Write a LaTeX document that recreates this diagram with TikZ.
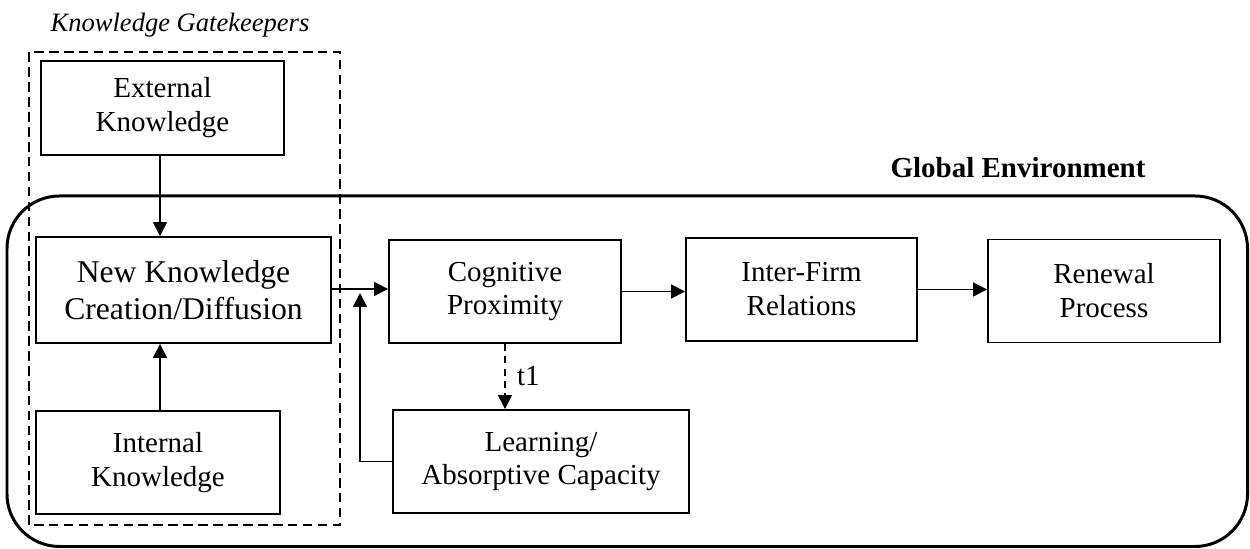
\documentclass[tikz,border=0pt]{standalone}
\usepackage{fontspec}
\setmainfont{Liberation Serif}
\usetikzlibrary{arrows.meta}
\definecolor{KGLine}{HTML}{000000}
\tikzset{
  kgbox/.style={draw=KGLine,line width=1.1pt,align=center,inner sep=0pt,font=\fontsize{16.5}{19.3}\selectfont},
  kgarrow/.style={draw=KGLine,line width=1pt,-{Triangle[length=0.28cm,width=0.28cm]}}
}

\begin{document}
\begin{tikzpicture}[x=1cm,y=1cm]
\path[use as bounding box] (0,0) rectangle (25.00,10.98);
\draw[KGLine,line width=1.7pt,rounded corners=1.05cm] (0.14,0.05) rectangle (24.95,7.06);
\draw[KGLine,line width=1.1pt,dash pattern=on 5.5pt off 3pt] (0.58,0.48) rectangle (6.80,9.94);
\node[font=\fontsize{15.1}{17}\selectfont\itshape] (gatekeepers) at (3.60,10.48) {Knowledge Gatekeepers};
\node[font=\fontsize{16.5}{19}\selectfont\bfseries] (globalenv) at (20.36,7.62) {Global Environment};
\node[kgbox,minimum width=4.86cm,minimum height=1.88cm] (ext) at (3.25,8.82) {External\\Knowledge};
\node[kgbox,minimum width=5.90cm,minimum height=2.12cm,font=\fontsize{18}{21}\selectfont] (new) at (3.67,5.18) {New Knowledge\\Creation/Diffusion};
\node[kgbox,minimum width=4.88cm,minimum height=2.06cm] (int) at (3.16,1.73) {Internal\\Knowledge};
\node[kgbox,minimum width=4.64cm,minimum height=2.06cm] (cog) at (10.10,5.15) {Cognitive\\Proximity};
\node[kgbox,minimum width=5.92cm,minimum height=2.06cm] (learn) at (10.82,1.75) {Learning/\\Absorptive Capacity};
\node[kgbox,minimum width=4.62cm,minimum height=2.06cm] (firm) at (16.03,5.19) {Inter-Firm\\Relations};
\node[kgbox,minimum width=4.64cm,minimum height=2.06cm] (renew) at (22.08,5.16) {Renewal\\Process};
\coordinate (fbend) at (7.20,5.12);
\draw[kgarrow] (ext.south -| 3.20,0) -- (new.north -| 3.20,0);
\draw[kgarrow] (int.north -| 3.20,0) -- (new.south -| 3.20,0);
\draw[kgarrow] ([yshift=0.02cm]new.east) -- ([yshift=0.02cm]new.east -| cog.west);
\draw[kgarrow] (cog.east) -- (cog.east -| firm.west);
\draw[kgarrow] (firm.east) -- (firm.east -| renew.west);
\draw[kgarrow,dash pattern=on 4pt off 3pt] (cog.south) -- node[right,font=\fontsize{16.5}{18}\selectfont,xshift=3pt] (tone) {t1} (cog.south |- learn.north);
\draw[kgarrow] (learn.west) -| (fbend);
\end{tikzpicture}
\end{document}
